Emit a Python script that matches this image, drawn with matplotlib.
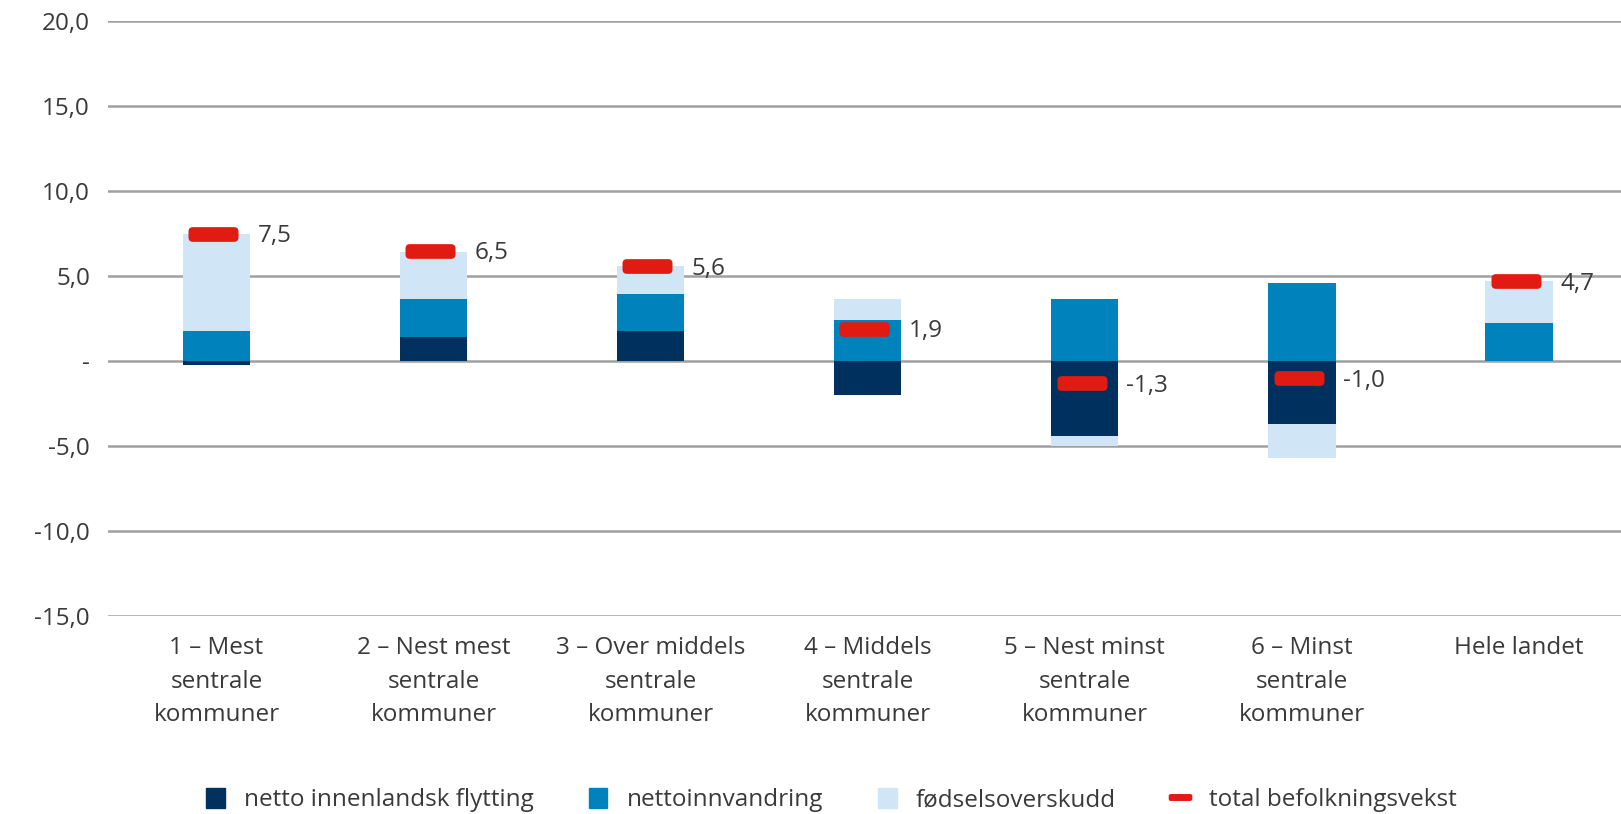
import matplotlib.pyplot as plt
from matplotlib.patches import Patch, FancyBboxPatch
from matplotlib.lines import Line2D
import numpy as np

# Data
categories = ["1 – Mest\nsentrale\nkommuner", "2 – Nest mest\nsentrale\nkommuner",
              "3 – Over middels\nsentrale\nkommuner", "4 – Middels\nsentrale\nkommuner",
              "5 – Nest minst\nsentrale\nkommuner", "6 – Minst\nsentrale\nkommuner",
              "Hele landet"]
innenlandsk = [-0.2, 1.4, 1.8, -2.0, -4.4, -3.7, 0.0]
innvandring = [1.8, 2.25, 2.15, 2.45, 3.65, 4.6, 2.25]
fodsel = [5.7, 2.8, 1.65, 1.2, -0.6, -2.0, 2.45]
total = [7.5, 6.5, 5.6, 1.9, -1.3, -1.0, 4.7]

series_names = ["netto innenlandsk flytting", "nettoinnvandring", "fødselsoverskudd",
                "total befolkningsvekst"]
COLOURS = ["#00305e", "#0083bd", "#d0e6f6", "#e11b12"]
TEXT_COLOUR = "#3a3a3a"
FONT_SIZE = 17.5

plt.rcParams["font.family"] = ["Open Sans", "DejaVu Sans"]

# Rounded-rectangle marker for the total
box = FancyBboxPatch((-1.7, -0.5), 3.4, 1.0, boxstyle="round,pad=0,rounding_size=0.3")
ROUND_MARKER = box.get_path()

fig = plt.figure(figsize=(16.21, 8.14), dpi=100)
ax = fig.add_axes([0.0666, 0.243, 0.9334, 0.731])

x = np.arange(len(categories))
width = 0.31

# Stack positives upward and negatives downward
pos_base = np.zeros(len(x))
neg_base = np.zeros(len(x))
for values, colour in zip([innenlandsk, innvandring, fodsel], COLOURS[:3]):
    values = np.array(values)
    bottom = np.where(values >= 0, pos_base, neg_base)
    ax.bar(x, values, width=width, bottom=bottom, color=colour, zorder=3)
    pos_base = pos_base + np.clip(values, 0, None)
    neg_base = neg_base + np.clip(values, None, 0)

# Total markers
ax.plot(x - 0.015, total, linestyle="none", marker=ROUND_MARKER, markersize=36,
        color=COLOURS[3], markeredgewidth=0, zorder=4)
for xi, t in zip(x, total):
    ax.text(xi + width / 2 + 0.035, t - 0.15, f"{t:.1f}".replace(".", ","),
            va="center", ha="left", fontsize=FONT_SIZE, color=TEXT_COLOUR, zorder=5)

# Axes
ax.set_ylim(-15, 20)
ax.set_xlim(-0.5, 6.47)
yticks = np.arange(-15, 21, 5)
ax.set_yticks(yticks)
ax.set_yticklabels(["-" if v == 0 else f"{v:.1f}".replace(".", ",") for v in yticks])
ax.set_xticks(x)
ax.set_xticklabels(categories, linespacing=1.53)
ax.tick_params(axis="both", length=0, labelsize=FONT_SIZE, colors=TEXT_COLOUR)
ax.tick_params(axis="y", pad=13)
ax.tick_params(axis="x", pad=14.5)
ax.grid(axis="y", color="#a0a0a0", linewidth=1.8, zorder=0)
for spine in ax.spines.values():
    spine.set_visible(False)

# Legend
handles = [Patch(color=c) for c in COLOURS[:3]]
handles.append(Line2D([0], [0], linestyle="none", marker=ROUND_MARKER, markersize=17,
                      color=COLOURS[3], markeredgewidth=0))
fig.legend(handles, series_names, loc="center", bbox_to_anchor=(0.513, 0.017), ncol=4,
           frameon=False, fontsize=FONT_SIZE, handlelength=0.75, handleheight=0.9,
           handletextpad=0.8, columnspacing=2.27, labelcolor=TEXT_COLOUR)

fig.savefig("out.png", dpi=100)
